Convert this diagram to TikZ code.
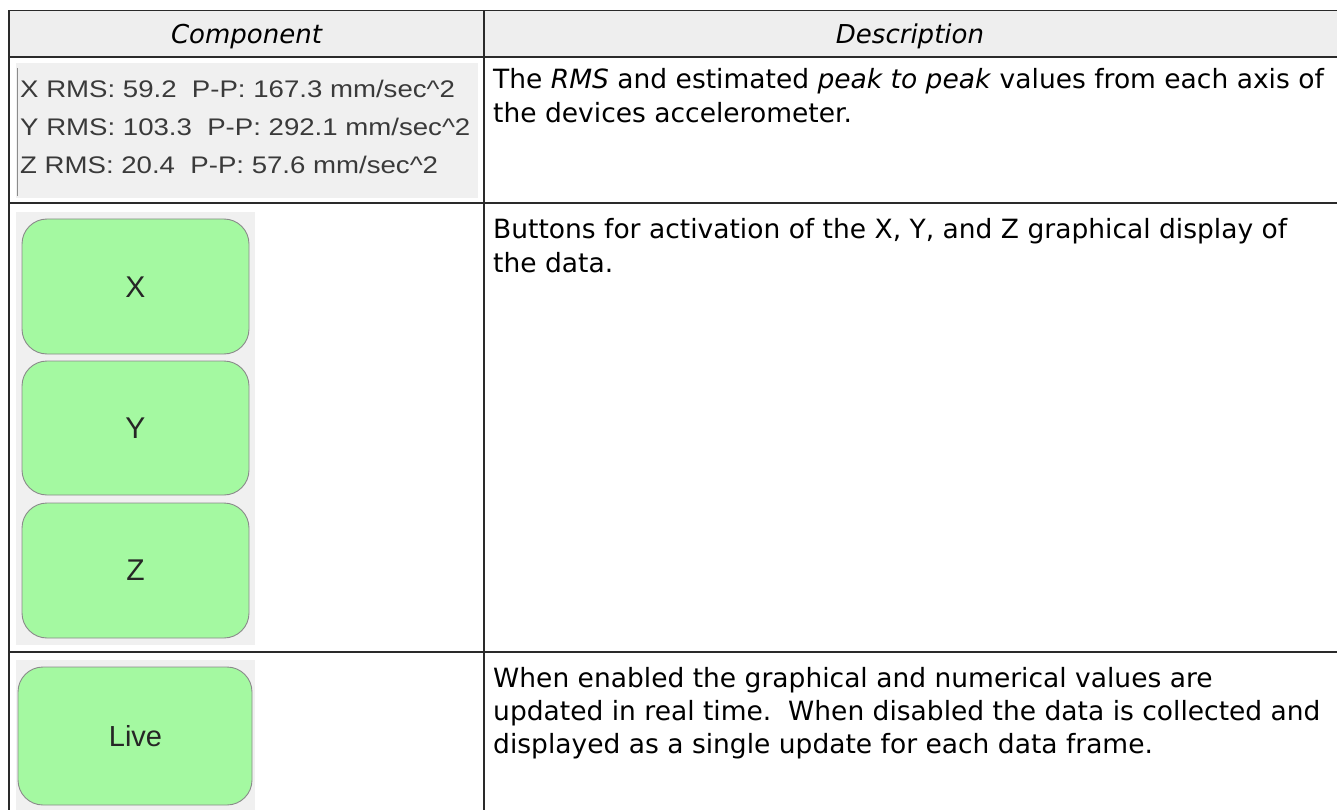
\documentclass[tikz,border=0pt]{standalone}
\usepackage{fontspec}
\setmainfont{DejaVu Sans}
\newfontfamily\andr[FakeStretch=1.15]{Liberation Sans}
\newfontfamily\btnfont{Liberation Sans}
\definecolor{hdrfill}{HTML}{EEEEEE}
\definecolor{shotfill}{HTML}{F0F0F0}
\definecolor{btnfill}{HTML}{A4F9A1}
\definecolor{btnedge}{HTML}{8A8A8A}
\definecolor{rulecol}{HTML}{2A2A2A}
\definecolor{shottext}{HTML}{3A3A3A}
\tikzset{
  tablerule/.style={draw=rulecol, line width=1.4pt},
  hdrtext/.style={inner sep=0pt, anchor=base, font=\fontsize{26}{30}\selectfont\itshape},
  desctext/.style={inner sep=0pt, anchor=base west, font=\fontsize{26.5}{32}\selectfont},
  shotline/.style={inner sep=0pt, anchor=base west, text=shottext, font=\andr\fontsize{24}{28}\selectfont},
  shotbg/.style={fill=shotfill, draw=none},
  btnbox/.style={fill=btnfill, draw=btnedge, line width=0.9pt, rounded corners=25pt},
  btntext/.style={inner sep=0pt, anchor=base, text=black!85, font=\btnfont\fontsize{30}{34}\selectfont}
}
\begin{document}
\begin{tikzpicture}[x=1pt, y=-1pt]
\useasboundingbox (0,0) rectangle (1337,810);
\fill[white] (0,0) rectangle (1337,810);
% header band
\fill[hdrfill] (9,10.5) rectangle (1337,57);
% row 1 screenshot
\fill[shotfill] (16,63) rectangle (478,198);
\draw[draw=black!45, line width=1pt] (17.5,68) -- (17.5,196);
\node[shotline] (s1) at (20,98) {X RMS: 59.2\ \ P-P: 167.3 mm/sec\^{}2};
\node[shotline] (s2) at (20,136) {Y RMS: 103.3\ \ P-P: 292.1 mm/sec\^{}2};
\node[shotline] (s3) at (20,174) {Z RMS: 20.4\ \ P-P: 57.6 mm/sec\^{}2};
% row 2 buttons
\fill[shotfill] (16,212) rectangle (255,645);
\draw[btnbox] (22,219) rectangle (249,354);
\draw[btnbox] (22,361) rectangle (249,495);
\draw[btnbox] (22,503) rectangle (249,638);
\node[btntext] (bx) at (135.5,297) {X};
\node[btntext] (by) at (135.5,438) {Y};
\node[btntext] (bz) at (135.5,580) {Z};
% row 3 live button
\fill[shotfill] (16,660) rectangle (255,810);
\draw[btnbox] (18,667) rectangle (252,805);
\node[btntext, font=\btnfont\fontsize{29}{34}\selectfont] (bl) at (135.5,746) {Live};
% table rules
\draw[tablerule] (1337,10.5) -- (9,10.5) -- (9,810);
\draw[tablerule] (9,57) -- (1337,57);
\draw[tablerule] (9,203) -- (1337,203);
\draw[tablerule] (9,652) -- (1337,652);
\draw[tablerule] (484,10.5) -- (484,810);
% header text
\node[hdrtext] (hc) at (246.5,44) {Component};
\node[hdrtext] (hd) at (910,44) {Description};
% descriptions
\node[desctext] (d1a) at (493,89) {The \textit{RMS} and estimated \textit{peak to peak} values from each axis of};
\node[desctext] (d1b) at (493,123) {the devices accelerometer.};
\node[desctext] (d2a) at (493,238) {Buttons for activation of the X, Y, and Z graphical display of};
\node[desctext] (d2b) at (493,272) {the data.};
\node[desctext] (d3a) at (493,687) {When enabled the graphical and numerical values are};
\node[desctext] (d3b) at (493,720) {updated in real time.\ \ When disabled the data is collected and};
\node[desctext] (d3c) at (493,753) {displayed as a single update for each data frame.};
\end{tikzpicture}
\end{document}
